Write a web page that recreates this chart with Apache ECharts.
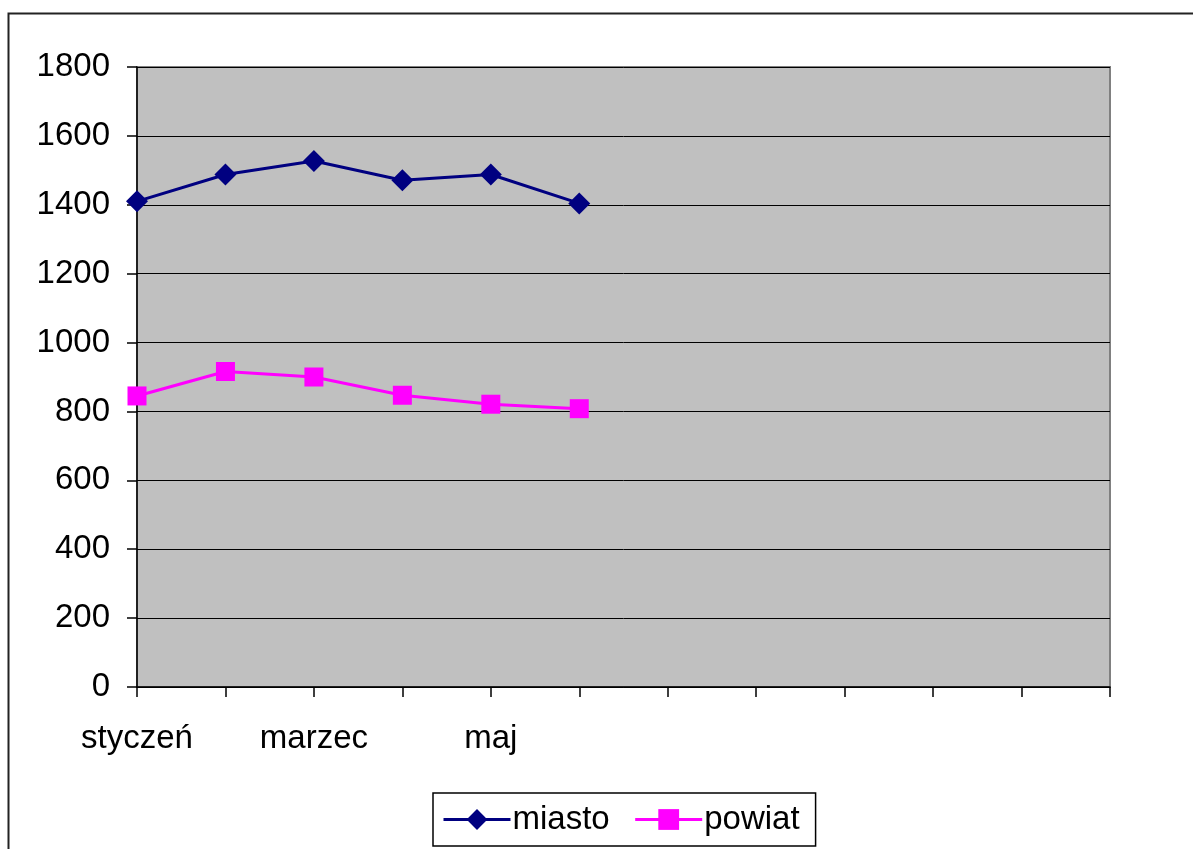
<!DOCTYPE html>
<html>
<head>
<meta charset="utf-8">
<script src="https://cdn.jsdelivr.net/npm/echarts@6/dist/echarts.min.js"></script>
<style>html,body{margin:0;padding:0;background:#fff;}#c{width:1193px;height:849px;}</style>
</head>
<body>
<div id="c"></div>
<script>
const categories = ['styczeń','luty','marzec','kwiecień','maj','czerwiec','','','','','',''];
const miasto = [1410, 1488, 1527, 1471, 1488, 1404];
const powiat = [845, 916, 900, 847, 821, 808];

const chart = echarts.init(document.getElementById('c'), null, {renderer: 'canvas'});
const font = 'Liberation Sans, Arial, sans-serif';
chart.setOption({
  animation: false,
  backgroundColor: '#fff',
  graphic: [{
    type: 'rect', left: 6, top: 11, shape: {width: 1200, height: 850},
    style: {fill: 'none', stroke: '#222', lineWidth: 2}, silent: true, z: -1
  }],
  grid: {left: 137, top: 67, width: 973, height: 620, show: true,
         backgroundColor: '#C0C0C0', borderColor: '#808080', borderWidth: 2},
  legend: {
    data: ['miasto', 'powiat'],
    left: 433, top: 793,
    padding: [10, 16, 10, 9],
    borderColor: '#000', borderWidth: 1.5, backgroundColor: '#fff',
    itemWidth: 67, itemHeight: 26, itemGap: 24,
    lineStyle: {width: 3},
    textStyle: {fontFamily: font, fontSize: 33, color: '#000', padding: [0, 0, 0, -3]}
  },
  xAxis: {
    type: 'category', data: categories, boundaryGap: false,
    axisLine: {lineStyle: {color: '#000', width: 1.5}},
    axisTick: {show: true, length: 10, interval: 0, lineStyle: {color: '#000', width: 1.5}},
    axisLabel: {interval: 1, margin: 35, fontFamily: font, fontSize: 33, color: '#000'},
    splitLine: {show: false}
  },
  yAxis: {
    type: 'value', min: 0, max: 1800, interval: 200,
    axisLine: {show: true, lineStyle: {color: '#000', width: 1.5}},
    axisTick: {show: true, length: 10, lineStyle: {color: '#000', width: 1.5}},
    axisLabel: {margin: 27, fontFamily: font, fontSize: 33, color: '#000',
                formatter: function (v) { return String(v); }},
    splitLine: {show: true, lineStyle: {color: '#000', width: 1}}
  },
  series: [
    {name: 'miasto', type: 'line', data: miasto, symbol: 'diamond', symbolSize: 22,
     itemStyle: {color: '#000080'}, lineStyle: {color: '#000080', width: 3}},
    {name: 'powiat', type: 'line', data: powiat, symbol: 'rect', symbolSize: 19,
     itemStyle: {color: '#FF00FF'}, lineStyle: {color: '#FF00FF', width: 3}}
  ]
});
</script>
</body>
</html>
